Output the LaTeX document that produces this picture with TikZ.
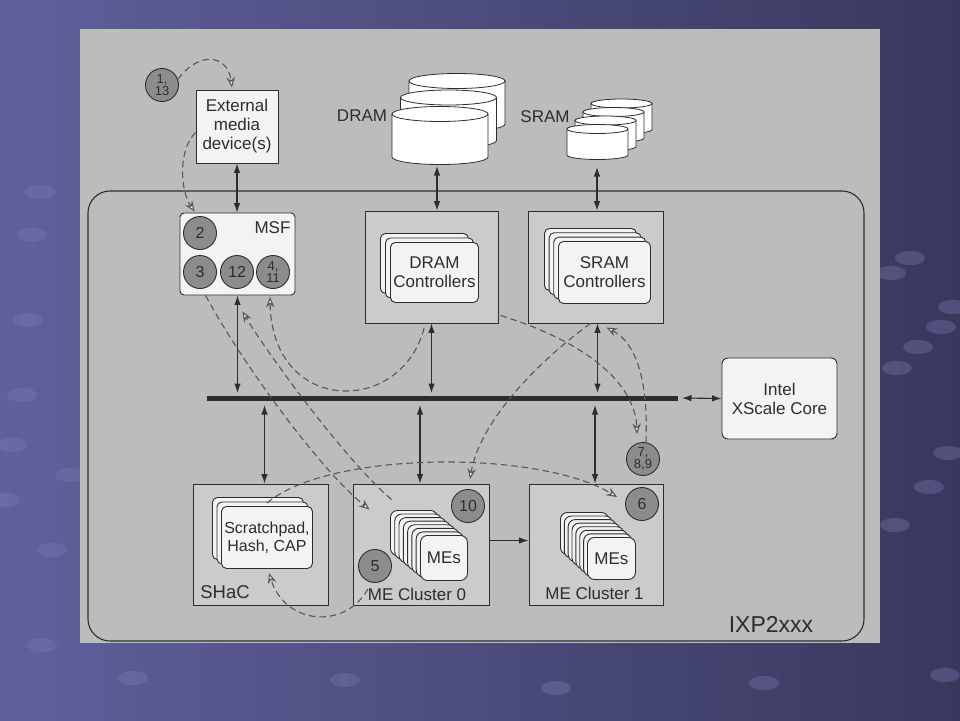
\documentclass[tikz,border=0pt]{standalone}
\usepackage{fontspec}
\setmainfont{Liberation Sans}
\usetikzlibrary{arrows.meta,calc,positioning}

\definecolor{ink}{RGB}{45,45,45}
\definecolor{panel}{RGB}{188,188,188}
\definecolor{boxgray}{RGB}{203,203,203}
\definecolor{cardwhite}{RGB}{243,243,243}
\definecolor{numgray}{RGB}{140,140,140}
\definecolor{slideL}{RGB}{96,96,156}
\definecolor{slideR}{RGB}{56,56,94}
\definecolor{dotblue}{RGB}{125,125,180}

% one memory drum: centre x, top y, x radius, y radius, height
\newcommand{\drum}[5]{%
  \filldraw[fill=white,draw=ink,line width=0.8pt] (#1-#3,#2) -- (#1-#3,#2+#5) arc (180:0:#3 and #4) -- (#1+#3,#2) -- cycle;
  \filldraw[fill=white,draw=ink,line width=0.8pt] (#1,#2) ellipse (#3 and #4);}

\begin{document}
\begin{tikzpicture}[x=1pt,y=-1pt,
  every node/.style={font=\fontsize{17}{19}\selectfont, text=ink},
  outerbox/.style={draw=ink, fill=boxgray, line width=0.9pt, inner sep=0pt},
  card/.style={draw=ink, fill=cardwhite, rounded corners=5pt, line width=0.9pt, inner sep=0pt, align=center},
  num/.style={circle, draw=ink, fill=numgray, minimum size=33pt, inner sep=0pt, line width=0.9pt, align=center, font=\fontsize{16}{16}\selectfont},
  numtwo/.style={num, font=\fontsize{13}{12}\selectfont},
  link/.style={{Latex[length=9.5pt,width=6.5pt]}-{Latex[length=9.5pt,width=6.5pt]}, line width=1.1pt, draw=ink},
  flow/.style={dash pattern=on 6.5pt off 4pt, line width=1.1pt, draw=ink!80, -{Stealth[length=10.5pt,width=8.5pt,fill=white]}}]

\useasboundingbox (0,0) rectangle (960,720);
\shade[left color=slideL, right color=slideR] (0,0) rectangle (960,720);
\foreach \x/\y in {910/258,891/273,953/307,941/327,918/347,897/368,948/453,929/487,895/525,945/675,
  40/192,32/235,28/320,22/395,12/445,70/475,5/500,52/550,42/645,133/678,345/680,556/688,764/683}
  \fill[dotblue, opacity=0.35] (\x,\y) ellipse (15 and 7);
\fill[panel] (80,29) rectangle (880,643);

% chip outline
\node[draw=ink, line width=1.1pt, rounded corners=22pt, minimum width=776pt, minimum height=450pt] (ixp) at (476,416) {};
\node[font=\fontsize{23}{23}\selectfont] (ixplbl) at (771,624) {IXP2xxx};

% off-chip parts
\node[numtwo] (c113) at (162,85) {1,\\13};
\node[draw=ink, fill=cardwhite, line width=0.9pt, minimum width=82pt, minimum height=73pt, align=center] (ext) at (237,126.5) {External\\media\\device(s)};
\node (dramlbl) at (362,116) {DRAM};
\drum{457}{81}{48}{7.5}{43}
\drum{448.5}{97.5}{48}{7.5}{43}
\drum{440}{114}{48}{7.5}{43}
\coordinate (dram) at (437,166);
\node (sramlbl) at (545,117) {SRAM};
\drum{621.5}{103.5}{30.5}{4.5}{26}
\drum{613.5}{112}{30.5}{4.5}{26}
\drum{605.5}{120.5}{30.5}{4.5}{26}
\drum{597.5}{129}{30.5}{4.5}{26}
\coordinate (sram) at (597,167);

% MSF
\node[card, rounded corners=4pt, minimum width=115pt, minimum height=82pt] (msf) at (237.5,254) {};
\node (msflbl) at (272.5,228) {MSF};
\node[num] (c2) at (200,233) {2};
\node[num] (c3) at (200,272) {3};
\node[num] (c12) at (237,272) {12};
\node[numtwo] (c411) at (273,272) {4,\\11};

% controllers
\node[outerbox, minimum width=133pt, minimum height=112pt] (dramc) at (431.5,267) {};
\foreach \k in {0,1}
  \node[card, minimum width=88pt, minimum height=60pt, anchor=north west] (dstack\k) at ($(380,233)+(\k*5,\k*4.5)$) {};
\node[card, minimum width=88pt, minimum height=60pt, anchor=north west] (dramcard) at (390,242) {DRAM\\Controllers};
\node[outerbox, minimum width=135pt, minimum height=112pt] (sramc) at (595.5,267) {};
\foreach \k in {0,1,2}
  \node[card, minimum width=92pt, minimum height=62pt, anchor=north west] (sstack\k) at ($(544,228)+(\k*4.67,\k*4.33)$) {};
\node[card, minimum width=92pt, minimum height=62pt, anchor=north west] (sramcard) at (558,241) {SRAM\\Controllers};

% bus and core
\coordinate (busL) at (207,398);
\coordinate (busR) at (678,398);
\draw[line width=5pt, ink] (busL) -- (busR);
\node[card, rounded corners=6pt, minimum width=115pt, minimum height=81pt] (xscale) at (779.5,398.5) {Intel\\XScale Core};

% SHaC
\node[outerbox, minimum width=135pt, minimum height=121pt] (shac) at (260.5,544.5) {};
\foreach \k in {0,1}
  \node[card, minimum width=91pt, minimum height=62pt, anchor=north west] (hstack\k) at ($(212,497)+(\k*4.5,\k*4.5)$) {};
\node[card, minimum width=91pt, minimum height=62pt, anchor=north west, font=\fontsize{16}{18}\selectfont] (scratch) at (221,506) {Scratchpad,\\Hash, CAP};
\node[font=\fontsize{18.5}{18.5}\selectfont] (shaclbl) at (225,592) {SHaC};

% ME clusters
\node[outerbox, minimum width=136pt, minimum height=121pt] (me0) at (421,544.5) {};
\foreach \k in {0,...,6}
  \node[card, rounded corners=7pt, minimum width=47pt, minimum height=45pt, anchor=north west] (mstack\k) at ($(390,510)+(\k*4.29,\k*3.57)$) {};
\node[card, rounded corners=7pt, minimum width=47pt, minimum height=45pt, anchor=north west] (mes0) at (420,535) {MEs};
\node (me0lbl) at (417,594) {ME Cluster 0};
\node[num] (c10) at (468,506) {10};
\node[num] (c5) at (375,566) {5};

\node[outerbox, minimum width=134pt, minimum height=121pt] (me1) at (596,544.5) {};
\foreach \k in {0,...,6}
  \node[card, rounded corners=7pt, minimum width=48pt, minimum height=42pt, anchor=north west] (nstack\k) at ($(560,512)+(\k*3.86,\k*3.57)$) {};
\node[card, rounded corners=7pt, minimum width=48pt, minimum height=42pt, anchor=north west] (mes1) at (587,537) {MEs};
\node (me1lbl) at (594.5,593) {ME Cluster 1};
\node[num] (c6) at (642,504) {6};
\node[numtwo] (c789) at (643,459) {7,\\8,9};

% data paths
\draw[link] (ext.south) -- (ext.south |- msf.north);
\draw[link] (dram) -- (dram |- dramc.north);
\draw[link] (sram) -- (sram |- sramc.north);
\draw[link] (msf.south) -- ($(msf.south |- busL)+(0,-5)$);
\draw[link] (dramc.south) -- ($(dramc.south |- busL)+(0,-5)$);
\draw[link] ($(sramc.south)+(2,0)$) -- ($(sramc.south |- busL)+(2,-5)$);
\draw[link] ($(shac.north |- busL)+(4,7)$) -- ($(shac.north)+(4,0)$);
\draw[link] ($(me0.north |- busL)+(-1,7)$) -- ($(me0.north)+(-1,0)$);
\draw[link] ($(me1.north |- busL)+(-1,7)$) -- ($(me1.north)+(-1,0)$);
\draw[link] ($(busR)+(4,0)$) -- (xscale.west);
\draw[-{Latex[length=9.5pt,width=6.5pt]}, line width=1.1pt, ink] ($(me0.east)+(0,-4)$) -- ($(me1.west)+(0,-4)$);

% numbered flow steps
\draw[flow] (c113.20) .. controls (200,50) and (228,55) .. ($(ext.north)+(-5,-2)$);
\draw[flow] ($(ext.west)+(0,6)$) .. controls (178,150) and (180,190) .. ($(msf.north west)+(15,-1)$);
\draw[flow] ($(msf.south west)+(26,0)$) .. controls (240,360) and (320,470) .. ($(me0.north west)+(17,26)$);
\draw[flow] ($(me0.north west)+(39,16)$) .. controls (345,460) and (265,350) .. ($(msf.south)+(5,16)$);
\draw[flow, {Stealth[length=10.5pt,width=8.5pt,fill=white]}-] ($(c411.south)+(-3,8)$) .. controls (272,416) and (403,416) .. ($(dramc.south)+(-7,3)$);
\draw[flow] ($(dramc.south east)+(2,-8)$) .. controls (580,340) and (635,380) .. ($(c789.north)+(-6,-8)$);
\draw[flow] ($(c789.north)+(3,0)$) .. controls (648,390) and (640,345) .. ($(sramc.south)+(11,4)$);
\draw[flow] ($(sramc.south)+(-5,0)$) .. controls (540,360) and (480,420) .. ($(c10.north)+(2,-10)$);
\draw[flow] ($(scratch.north)+(0,-3)$) .. controls (330,450) and (540,450) .. ($(c6.west)+(-8,-7)$);
\draw[flow] ($(c5.south)+(-7,6)$) .. controls (345,630) and (285,625) .. ($(scratch.south)+(2,4)$);
\end{tikzpicture}
\end{document}
